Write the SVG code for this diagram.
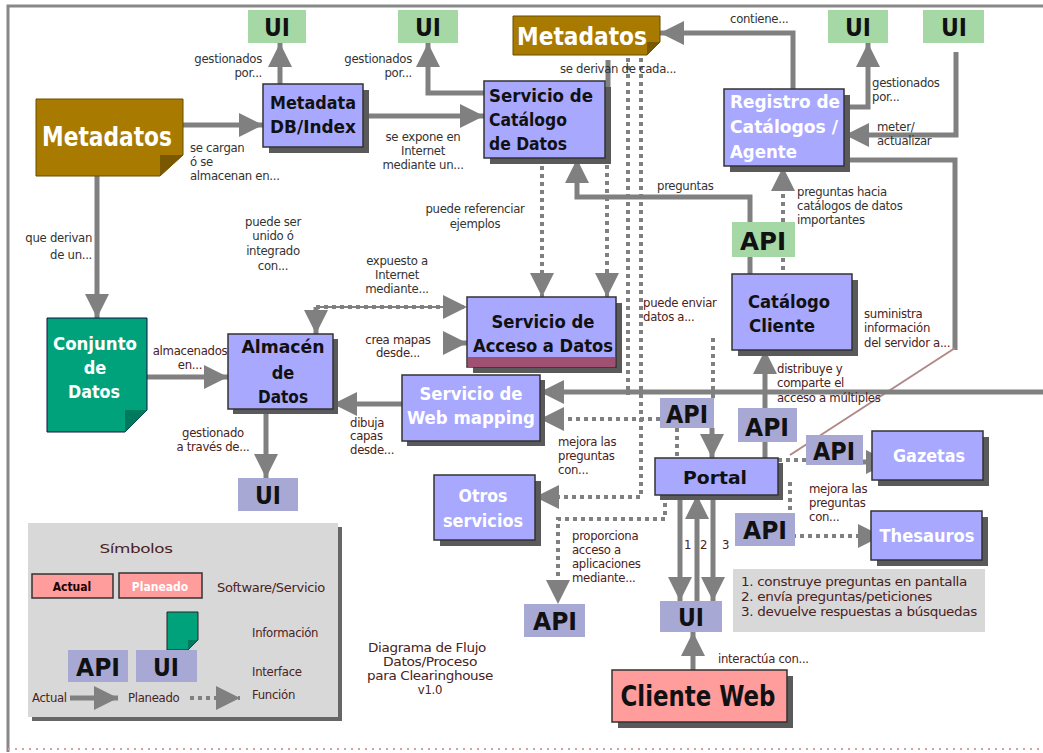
<svg xmlns="http://www.w3.org/2000/svg" width="1043" height="753" viewBox="0 0 1043 753">
<style>
.ln{stroke:#808080;stroke-width:5;fill:none}
.dt{stroke:#808080;stroke-width:4;stroke-dasharray:4 4;fill:none}
.th{stroke:#b08888;stroke-width:2;fill:none}
.lav{fill:#a8a8ff;stroke:#333;stroke-width:1.5}
.sh{fill:#5a5a5a}
.grn{fill:#a6d8a6}
.itf{fill:#a8a8d4}
.pk{fill:#ff9c9c;stroke:#333;stroke-width:1.5}
text{font-family:"DejaVu Sans Condensed","DejaVu Sans",sans-serif;font-stretch:condensed}
.nb{font-weight:bold;font-size:18px;fill:#111}
.nw{font-weight:bold;font-size:18px;fill:#fff}
.big{font-weight:bold;font-size:25px;fill:#111;text-anchor:middle}
.lb{font-size:13px;fill:#333;letter-spacing:-0.3px}
.lr{font-size:13px;fill:#4a2222;letter-spacing:-0.3px}
.c{text-anchor:middle}
.r{text-anchor:end}
</style>
<defs>
<marker id="ah" markerUnits="userSpaceOnUse" markerWidth="24" markerHeight="24" refX="24" refY="12" orient="auto">
<path d="M0,0 L24,12 L0,24 z" fill="#808080"/>
</marker>
</defs>
<rect x="0" y="0" width="1043" height="753" fill="#fff"/>
<g id="frame">
<path d="M8,752 V6 H1043" stroke="#888" stroke-width="3" fill="none"/>
<path d="M8,749 H1043" stroke="#d8a0a0" stroke-width="2" stroke-dasharray="2 5" fill="none"/>
</g>

<g id="connectors">
<path class="ln" d="M183,125 H263" marker-end="url(#ah)"/>
<path class="ln" d="M280,84 V43" marker-end="url(#ah)"/>
<path class="ln" d="M97,176 V318" marker-end="url(#ah)"/>
<path class="ln" d="M363,116 H484" marker-end="url(#ah)"/>
<path class="ln" d="M484,93 H428 V43" marker-end="url(#ah)"/>
<path class="ln" d="M793,89 V33 H660" marker-end="url(#ah)"/>
<path class="ln" d="M608,60 V120 H576" marker-end="url(#ah)"/>
<path class="ln" d="M750,223 V197 H577 V159" marker-end="url(#ah)"/>
<path class="dt" d="M783,222 V167" marker-end="url(#ah)"/>
<path class="ln" d="M750,257 V274"/>
<path class="dt" d="M783,258 V274"/>
<path class="ln" d="M844,107 H868 V43" marker-end="url(#ah)"/>
<path class="ln" d="M956,52 V135 H845" marker-end="url(#ah)"/>
<path class="ln" d="M844,160 H955 V350"/>
<path class="th" d="M955,348 L790,455"/>
<path class="ln" d="M765,458 V350" marker-end="url(#ah)"/>
<path class="ln" d="M712,428 V458" marker-end="url(#ah)"/>
<path class="dt" d="M713,338 V398"/>
<path class="dt" d="M677,428 V456"/>
<path class="ln" d="M680,495 V601" marker-end="url(#ah)"/>
<path class="ln" d="M697,601 V495" marker-end="url(#ah)"/>
<path class="ln" d="M713,495 V601" marker-end="url(#ah)"/>
<path class="ln" d="M693,670 V632" marker-end="url(#ah)"/>
<path class="dt" d="M778,460 H806"/>
<path class="ln" d="M863,462 H890" marker-end="url(#ah)"/>
<path class="dt" d="M790,482 V536 H882" marker-end="url(#ah)"/>
<path class="dt" d="M665,495 V519 H558 V604" marker-end="url(#ah)"/>
<path class="dt" d="M628,58 V395"/>
<path class="dt" d="M641,58 V497 H535" marker-end="url(#ah)"/>
<path class="ln" d="M1043,392 H540" marker-end="url(#ah)"/>
<path class="dt" d="M660,419 H540" marker-end="url(#ah)"/>
<path class="dt" d="M542,158 V297" marker-end="url(#ah)"/>
<path class="dt" d="M607,165 V297" marker-end="url(#ah)"/>
<path class="ln" d="M147,377 H228" marker-end="url(#ah)"/>
<path class="ln" d="M266,409 V478" marker-end="url(#ah)"/>
<path stroke="#808080" stroke-width="2" fill="none" d="M316,307 H460"/>
<path class="dt" d="M316,307 H467" marker-end="url(#ah)"/>
<path class="ln" d="M316,307 V334" marker-end="url(#ah)"/>
<path class="ln" d="M445,343 H467" marker-end="url(#ah)"/>
<path class="ln" d="M402,404 H333" marker-end="url(#ah)"/>
</g>

<g id="labels">
<text class="lb r" x="262" y="63">gestionados</text>
<text class="lb r" x="262" y="77">por...</text>
<text class="lb r" x="412" y="63">gestionados</text>
<text class="lb r" x="412" y="77">por...</text>
<text class="lb" x="190" y="152">se cargan</text>
<text class="lb" x="190" y="166">ó se</text>
<text class="lb" x="190" y="180">almacenan en...</text>
<text class="lb r" x="92" y="242">que derivan</text>
<text class="lb r" x="92" y="259">de un...</text>
<text class="lb c" x="423" y="141">se expone en</text>
<text class="lb c" x="423" y="155">Internet</text>
<text class="lb c" x="423" y="169">mediante un...</text>
<text class="lb" x="560" y="73">se derivan de cada...</text>
<text class="lb" x="730" y="23">contiene...</text>
<text class="lb" x="657" y="190">preguntas</text>
<text class="lb c" x="475" y="213">puede referenciar</text>
<text class="lb c" x="475" y="228">ejemplos</text>
<text class="lb" x="797" y="196">preguntas hacia</text>
<text class="lb" x="797" y="210">catálogos de datos</text>
<text class="lb" x="797" y="224">importantes</text>
<text class="lb" x="872" y="87">gestionados</text>
<text class="lb" x="872" y="101">por...</text>
<text class="lb" x="877" y="131">meter/</text>
<text class="lb" x="877" y="145">actualizar</text>
<text class="lb c" x="273" y="226">puede ser</text>
<text class="lb c" x="273" y="240">unido ó</text>
<text class="lb c" x="273" y="255">integrado</text>
<text class="lb c" x="273" y="270">con...</text>
<text class="lb c" x="397" y="265">expuesto a</text>
<text class="lb c" x="397" y="279">Internet</text>
<text class="lb c" x="397" y="293">mediante...</text>
<text class="lr c" x="190" y="355">almacenados</text>
<text class="lr c" x="190" y="369">en...</text>
<text class="lr c" x="398" y="344">crea mapas</text>
<text class="lr c" x="398" y="357">desde...</text>
<text class="lr c" x="213" y="437">gestionado</text>
<text class="lr c" x="213" y="451">a través de...</text>
<text class="lr" x="350" y="427">dibuja</text>
<text class="lr" x="350" y="440">capas</text>
<text class="lr" x="350" y="454">desde...</text>
<text class="lr" x="643" y="307">puede enviar</text>
<text class="lr" x="643" y="321">datos a...</text>
<text class="lr" x="864" y="318">suministra</text>
<text class="lr" x="864" y="332">información</text>
<text class="lr" x="864" y="347">del servidor a...</text>
<text class="lr" x="777" y="373">distribuye y</text>
<text class="lr" x="777" y="387">comparte el</text>
<text class="lr" x="777" y="402">acceso a múltiples</text>
<text class="lr" x="558" y="446">mejora las</text>
<text class="lr" x="558" y="460">preguntas</text>
<text class="lr" x="558" y="474">con...</text>
<text class="lr" x="809" y="493">mejora las</text>
<text class="lr" x="809" y="507">preguntas</text>
<text class="lr" x="809" y="521">con...</text>
<text class="lr" x="572" y="540">proporciona</text>
<text class="lr" x="572" y="554">acceso a</text>
<text class="lr" x="572" y="568">aplicaciones</text>
<text class="lr" x="572" y="582">mediante...</text>
<text class="lr" x="684" y="549">1</text>
<text class="lr" x="700" y="549">2</text>
<text class="lr" x="722" y="549">3</text>
<text class="lr" x="718" y="663">interactúa con...</text>
<text class="lr c" x="427" y="652" textLength="118" lengthAdjust="spacingAndGlyphs">Diagrama de Flujo</text>
<text class="lr c" x="430" y="666" textLength="94" lengthAdjust="spacingAndGlyphs">Datos/Proceso</text>
<text class="lr c" x="430" y="680" textLength="126" lengthAdjust="spacingAndGlyphs">para Clearinghouse</text>
<text class="lr c" x="430" y="694">v1.0</text>
</g>

<g id="ui1"><rect class="grn" x="248" y="10" width="58" height="33"/><text class="big" x="277" y="36" textLength="26" lengthAdjust="spacingAndGlyphs">UI</text></g>
<g id="ui2"><rect class="grn" x="398" y="10" width="60" height="33"/><text class="big" x="428" y="36" textLength="26" lengthAdjust="spacingAndGlyphs">UI</text></g>
<g id="ui3"><rect class="grn" x="828" y="10" width="60" height="33"/><text class="big" x="858" y="36" textLength="26" lengthAdjust="spacingAndGlyphs">UI</text></g>
<g id="ui4"><rect class="grn" x="923" y="10" width="61" height="33"/><text class="big" x="954" y="36" textLength="26" lengthAdjust="spacingAndGlyphs">UI</text></g>

<g id="metadatos-top">
<path d="M513,16 H660 V42 L647,55 H513 Z" fill="#a87a00" stroke="#6a4c00" stroke-width="1"/>
<path d="M647,55 V42 H660 Z" fill="#7a5800"/>
<text x="582" y="45" font-weight="bold" font-size="24" fill="#fff" text-anchor="middle" textLength="130" lengthAdjust="spacingAndGlyphs">Metadatos</text>
</g>

<g id="metadatos-left">
<path d="M36,99 H183 V155 L160,176 H36 Z" fill="#a87a00" stroke="#6a4c00" stroke-width="1"/>
<path d="M160,176 V155 H183 Z" fill="#7a5800"/>
<text x="107" y="146" font-weight="bold" font-size="26" fill="#fff" text-anchor="middle" textLength="130" lengthAdjust="spacingAndGlyphs">Metadatos</text>
</g>

<g id="metadata-db">
<rect class="sh" x="269" y="90" width="100" height="63"/>
<rect class="lav" x="263" y="84" width="100" height="63"/>
<text class="nb c" x="313" y="109" font-size="17" textLength="86" lengthAdjust="spacingAndGlyphs">Metadata</text>
<text class="nb c" x="313" y="133" font-size="17" textLength="86" lengthAdjust="spacingAndGlyphs">DB/Index</text>
</g>

<g id="servicio-catalogo">
<rect class="sh" x="490" y="87" width="121" height="77"/>
<rect class="lav" x="484" y="81" width="121" height="77"/>
<text class="nb" x="489" y="102" textLength="104" lengthAdjust="spacingAndGlyphs">Servicio de</text>
<text class="nb" x="489" y="126" textLength="78" lengthAdjust="spacingAndGlyphs">Catálogo</text>
<text class="nb" x="489" y="150" textLength="78" lengthAdjust="spacingAndGlyphs">de Datos</text>
</g>

<g id="registro">
<rect class="sh" x="730" y="95" width="120" height="77"/>
<rect class="lav" x="724" y="89" width="120" height="77"/>
<text class="nw" x="730" y="108" textLength="110" lengthAdjust="spacingAndGlyphs">Registro de</text>
<text class="nw" x="730" y="133" textLength="108" lengthAdjust="spacingAndGlyphs">Catálogos /</text>
<text class="nw" x="730" y="158" textLength="67" lengthAdjust="spacingAndGlyphs">Agente</text>
</g>

<g id="api-green"><rect class="grn" x="732" y="222" width="63" height="35"/><text class="big" x="763" y="250" textLength="46" lengthAdjust="spacingAndGlyphs">API</text></g>

<g id="catalogo-cliente">
<rect class="sh" x="738" y="280" width="120" height="76"/>
<rect class="lav" x="732" y="274" width="120" height="76"/>
<text class="nb c" x="789" y="308" fill="#2a0808" textLength="82" lengthAdjust="spacingAndGlyphs">Catálogo</text>
<text class="nb c" x="782" y="332" fill="#2a0808" textLength="66" lengthAdjust="spacingAndGlyphs">Cliente</text>
</g>

<g id="conjunto">
<path d="M47,318 H147 V410 L125,432 H47 Z" fill="#00a27c" stroke="#114" stroke-width="1"/>
<path d="M125,432 V410 H147 Z" fill="#007a5c"/>
<text class="nw c" x="95" y="350" textLength="84" lengthAdjust="spacingAndGlyphs">Conjunto</text>
<text class="nw c" x="95" y="374">de</text>
<text class="nw c" x="94" y="398" textLength="52" lengthAdjust="spacingAndGlyphs">Datos</text>
</g>

<g id="almacen">
<rect class="sh" x="233" y="339" width="105" height="75"/>
<rect class="lav" x="228" y="334" width="105" height="75" stroke="#a04040"/>
<text class="nb c" x="283" y="353" fill="#300" textLength="83" lengthAdjust="spacingAndGlyphs">Almacén</text>
<text class="nb c" x="283" y="379" fill="#300">de</text>
<text class="nb c" x="283" y="403" fill="#300" textLength="50" lengthAdjust="spacingAndGlyphs">Datos</text>
</g>

<g id="acceso">
<rect class="sh" x="473" y="303" width="149" height="70"/>
<rect class="lav" x="467" y="297" width="149" height="70" stroke="#803030"/>
<rect x="468" y="357" width="147" height="10" fill="#a05070"/>
<text class="nb c" x="543" y="328" fill="#300" textLength="103" lengthAdjust="spacingAndGlyphs">Servicio de</text>
<text class="nb c" x="543" y="352" fill="#300" textLength="140" lengthAdjust="spacingAndGlyphs">Acceso a Datos</text>
</g>

<g id="webmapping">
<rect class="sh" x="407" y="380" width="138" height="66"/>
<rect class="lav" x="402" y="375" width="138" height="66" stroke="#a04040"/>
<text class="nw c" x="471" y="400" textLength="103" lengthAdjust="spacingAndGlyphs">Servicio de</text>
<text class="nw c" x="471" y="424" textLength="128" lengthAdjust="spacingAndGlyphs">Web mapping</text>
</g>

<g id="ui-almacen"><rect class="itf" x="238" y="478" width="60" height="33"/><text class="big" x="268" y="504" fill="#200" textLength="26" lengthAdjust="spacingAndGlyphs">UI</text></g>

<g id="otros">
<rect class="sh" x="440" y="481" width="101" height="65"/>
<rect class="lav" x="434" y="475" width="101" height="65" stroke="#a04040"/>
<text class="nw c" x="483" y="502" font-size="17" textLength="49" lengthAdjust="spacingAndGlyphs">Otros</text>
<text class="nw c" x="483" y="527" font-size="17" textLength="80" lengthAdjust="spacingAndGlyphs">servicios</text>
</g>

<g id="api-otros"><rect class="itf" x="524" y="604" width="61" height="33"/><text class="big" x="555" y="630" fill="#fff" textLength="44" lengthAdjust="spacingAndGlyphs">API</text></g>

<g id="api-a"><rect class="itf" x="660" y="398" width="54" height="30"/><text class="big" x="687" y="423" fill="#200" textLength="42" lengthAdjust="spacingAndGlyphs">API</text></g>
<g id="api-b"><rect class="itf" x="738" y="408" width="59" height="34"/><text class="big" x="767" y="436" fill="#200" textLength="44" lengthAdjust="spacingAndGlyphs">API</text></g>
<g id="api-c"><rect class="itf" x="806" y="435" width="57" height="30"/><text class="big" x="834" y="460" fill="#fff" textLength="42" lengthAdjust="spacingAndGlyphs">API</text></g>
<g id="api-d"><rect class="itf" x="735" y="513" width="60" height="33"/><text class="big" x="765" y="539" fill="#fff" textLength="44" lengthAdjust="spacingAndGlyphs">API</text></g>

<g id="portal">
<rect class="sh" x="660" y="463" width="123" height="37"/>
<rect class="lav" x="655" y="458" width="123" height="37" stroke="#a04040"/>
<text class="nb c" x="715" y="484" fill="#300" textLength="64" lengthAdjust="spacingAndGlyphs">Portal</text>
</g>

<g id="gazetas">
<rect class="sh" x="878" y="437" width="111" height="49"/>
<rect class="lav" x="872" y="431" width="111" height="49" stroke="#a04040"/>
<text class="nw c" x="929" y="462" textLength="72" lengthAdjust="spacingAndGlyphs">Gazetas</text>
</g>

<g id="thesauros">
<rect class="sh" x="877" y="517" width="111" height="49"/>
<rect class="lav" x="871" y="511" width="111" height="49" stroke="#a04040"/>
<text class="nw c" x="927" y="542" textLength="95" lengthAdjust="spacingAndGlyphs">Thesauros</text>
</g>

<g id="ui-portal"><rect class="itf" x="660" y="601" width="62" height="31"/><text class="big" x="691" y="626" fill="#200" textLength="26" lengthAdjust="spacingAndGlyphs">UI</text></g>

<g id="cliente-web">
<rect class="sh" x="618" y="676" width="175" height="52"/>
<rect class="pk" x="612" y="670" width="175" height="52"/>
<text x="698" y="706" font-weight="bold" font-size="29" fill="#111" text-anchor="middle" textLength="155" lengthAdjust="spacingAndGlyphs">Cliente Web</text>
</g>

<g id="pasos">
<rect x="733" y="569" width="252" height="63" fill="#d8d8d8"/>
<text class="lr" x="741" y="586" font-size="14" textLength="226" lengthAdjust="spacingAndGlyphs">1. construye preguntas en pantalla</text>
<text class="lr" x="741" y="601" font-size="14" textLength="191" lengthAdjust="spacingAndGlyphs">2. envía preguntas/peticiones</text>
<text class="lr" x="741" y="616" font-size="14" textLength="236" lengthAdjust="spacingAndGlyphs">3. devuelve respuestas a búsquedas</text>
</g>

<g id="simbolos">
<rect x="32" y="527" width="310" height="194" fill="#666"/>
<rect x="28" y="523" width="310" height="194" fill="#d8d8d8"/>
<text class="lr c" x="136" y="553" font-size="16" textLength="73" lengthAdjust="spacingAndGlyphs">Símbolos</text>
<rect class="pk" x="32" y="574" width="81" height="24"/>
<text x="72" y="591" font-weight="bold" font-size="12" fill="#200" text-anchor="middle">Actual</text>
<rect class="pk" x="119" y="573" width="83" height="25"/>
<text x="160" y="591" font-weight="bold" font-size="12" fill="#fff" text-anchor="middle">Planeado</text>
<text class="lr" x="217" y="592" textLength="108" lengthAdjust="spacingAndGlyphs">Software/Servicio</text>
<path d="M167,612 H198 V640 L188,650 H167 Z" fill="#00a27c" stroke="#222" stroke-width="1"/>
<path d="M188,650 V640 H198 Z" fill="#007a5c"/>
<text class="lr" x="252" y="637">Información</text>
<rect class="itf" x="68" y="650" width="60" height="32"/>
<text class="big" x="98" y="676" fill="#200" textLength="44" lengthAdjust="spacingAndGlyphs">API</text>
<rect class="itf" x="136" y="650" width="61" height="32"/>
<text class="big" x="166" y="676" fill="#200" textLength="26" lengthAdjust="spacingAndGlyphs">UI</text>
<text class="lr" x="252" y="676">Interface</text>
<text class="lr" x="32" y="702">Actual</text>
<path class="ln" d="M70,698 H118" marker-end="url(#ah)"/>
<text class="lr" x="128" y="702">Planeado</text>
<path class="dt" d="M190,698 H240" marker-end="url(#ah)"/>
<text class="lr" x="252" y="699">Función</text>
</g>
</svg>
